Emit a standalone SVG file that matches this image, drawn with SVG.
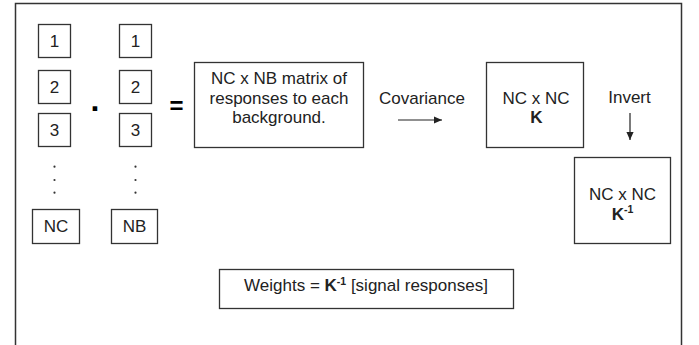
<svg xmlns="http://www.w3.org/2000/svg" width="699" height="345" viewBox="0 0 699 345">
<style>
.b{fill:#fff;stroke:#333;stroke-width:1.3}
.t{font-family:"Liberation Sans",Arial,sans-serif;font-size:17px;fill:#222;text-anchor:middle}
.bd{font-weight:bold}
.ln{stroke:#222;stroke-width:1.2;fill:none}
.d{fill:#333}
</style>
<defs>
<marker id="ah" viewBox="0 0 10 10" refX="10" refY="5" markerWidth="8" markerHeight="8" markerUnits="userSpaceOnUse" orient="auto">
<path d="M0,0.5 L10,5 L0,9.5 z" fill="#222"/>
</marker>
</defs>
<rect width="699" height="345" fill="#fff"/>
<path d="M15.5,346 V3.5 H681.5 V346" fill="none" stroke="#333" stroke-width="1.5"/>

<g id="c1"><rect class="b" x="38.5" y="24.5" width="32" height="33"/><text class="t" x="54.5" y="46.8">1</text></g>
<g id="c2"><rect class="b" x="38.5" y="70.5" width="32" height="33"/><text class="t" x="54.5" y="93.3">2</text></g>
<g id="c3"><rect class="b" x="38.5" y="113.5" width="32" height="33"/><text class="t" x="54.5" y="135.8">3</text></g>
<g id="cdots"><circle class="d" cx="54.5" cy="166.7" r="1.1"/><circle class="d" cx="54.5" cy="180" r="1.1"/><circle class="d" cx="54.5" cy="192.7" r="1.1"/></g>
<g id="cNC"><rect class="b" x="32.5" y="209.5" width="47" height="34"/><text class="t" x="56" y="232">NC</text></g>

<g id="b1"><rect class="b" x="119.5" y="24.5" width="32" height="33"/><text class="t" x="135.5" y="46.8">1</text></g>
<g id="b2"><rect class="b" x="119.5" y="70.5" width="32" height="33"/><text class="t" x="135.5" y="93.3">2</text></g>
<g id="b3"><rect class="b" x="119.5" y="113.5" width="32" height="33"/><text class="t" x="135.5" y="135.8">3</text></g>
<g id="bdots"><circle class="d" cx="135.5" cy="166.7" r="1.1"/><circle class="d" cx="135.5" cy="180" r="1.1"/><circle class="d" cx="135.5" cy="192.7" r="1.1"/></g>
<g id="bNB"><rect class="b" x="111.5" y="209.5" width="46" height="34"/><text class="t" x="134.5" y="232">NB</text></g>

<g id="dot"><text class="t bd" x="95" y="111" style="font-size:32px;fill:#000">.</text></g>
<g id="eq"><text class="t bd" x="176.5" y="113.5" style="font-size:24px;fill:#000">=</text></g>

<g id="matrix"><rect class="b" x="194.5" y="62.5" width="169" height="85"/>
<text class="t" x="279" y="84">NC x NB matrix of</text>
<text class="t" x="279" y="103.5">responses to each</text>
<text class="t" x="279" y="122.5">background.</text></g>

<g id="K"><rect class="b" x="486.5" y="62.5" width="97" height="85"/>
<text class="t" x="536" y="104">NC x NC</text>
<text class="t bd" x="536.5" y="122.5">K</text></g>

<g id="Kinv"><rect class="b" x="574.5" y="157.5" width="96" height="86"/>
<text class="t" x="622.5" y="199.5">NC x NC</text>
<text class="t" x="622.5" y="219.5"><tspan class="bd">K</tspan><tspan class="bd" font-size="10.5" dy="-6.5">-1</tspan></text></g>

<g id="weights"><rect class="b" x="219.5" y="269.5" width="294" height="39"/>
<text class="t" x="366" y="291">Weights = <tspan class="bd">K</tspan><tspan class="bd" font-size="10.5" dy="-6.5">-1</tspan><tspan dy="6.5"> [signal responses]</tspan></text></g>

<g id="connectors">
<text class="t" x="422" y="104">Covariance</text>
<line class="ln" x1="398" y1="120" x2="442" y2="120" marker-end="url(#ah)"/>
<text class="t" x="629.5" y="102.5">Invert</text>
<line class="ln" x1="630" y1="113" x2="630" y2="140" marker-end="url(#ah)"/>
</g>
</svg>
